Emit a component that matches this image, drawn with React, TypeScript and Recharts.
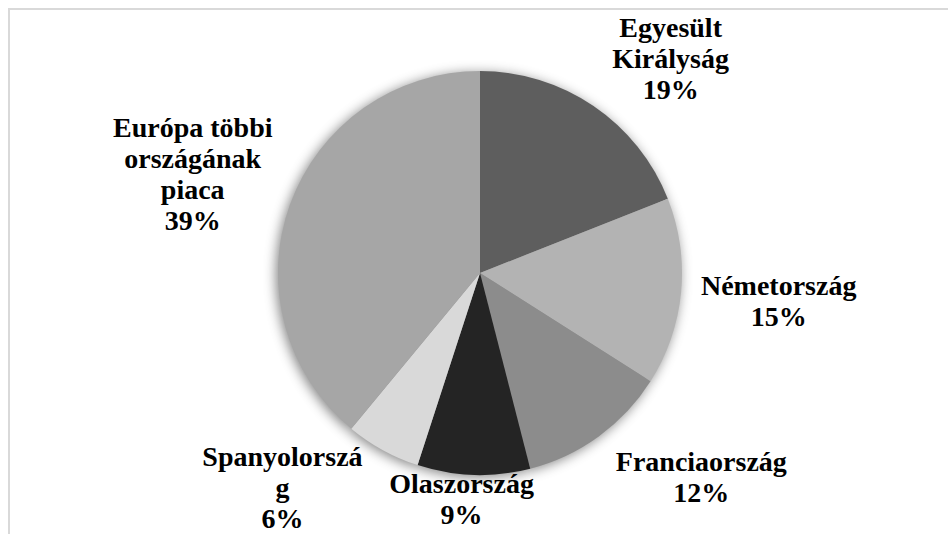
import React from 'react';
import { PieChart, Pie, Cell } from 'recharts';

const categories = ['Egyesült Királyság', 'Németország', 'Franciaország', 'Olaszország', 'Spanyolország', 'Európa többi országának piaca'];
const shares = [19, 15, 12, 9, 6, 39];
// label text broken the way the original wraps it
const labelLines = [
  ['Egyesült', 'Királyság'],
  ['Németország'],
  ['Franciaország'],
  ['Olaszország'],
  ['Spanyolorszá', 'g'],
  ['Európa többi', 'országának', 'piaca'],
];

const colors = ['#5e5e5e', '#b3b3b3', '#8c8c8c', '#242424', '#d9d9d9', '#a6a6a6'];
// small label shifts away from the plain mid-angle position
const nudges = [[22, 34], [0, 0], [45, -38], [-9, -73], [-53, -48], [-5, 3]];

const data = categories.map((name, i) => ({ name, value: shares[i] }));

const RAD = Math.PI / 180;
const LINE_H = 31;
const SERIF = '"Liberation Serif", "Times New Roman", serif';

const renderLabel = (props: any) => {
  const { cx, cy, midAngle, outerRadius, index, percent } = props;
  const r = outerRadius + 98;
  const x = cx + r * Math.cos(-midAngle * RAD) + nudges[index][0];
  const y = cy + r * Math.sin(-midAngle * RAD) + nudges[index][1];
  const lines = [...labelLines[index], `${Math.round(percent * 100)}%`];
  const first = y - ((lines.length - 1) * LINE_H) / 2 + 9;
  return (
    <text
      key={index}
      x={x}
      y={first}
      textAnchor="middle"
      fill="#000"
      style={{ fontFamily: SERIF, fontWeight: 'bold', fontSize: 28 }}
    >
      {lines.map((t, i) => (
        <tspan key={i} x={x} y={first + i * LINE_H}>
          {t}
        </tspan>
      ))}
    </text>
  );
};

export default function App() {
  return (
    <div
      style={{
        marginLeft: 8,
        marginTop: 8,
        width: 940,
        height: 524,
        borderTop: '2px solid #d9d9d9',
        borderLeft: '2px solid #d9d9d9',
        background: '#fff',
        overflow: 'hidden',
      }}
    >
      <style>{`body { margin: 0; overflow: hidden; } .pie-shadow { filter: url(#pieShadow); }`}</style>
      <svg width={0} height={0} style={{ position: 'absolute' }}>
        <defs>
          <filter id="pieShadow" x="-20%" y="-20%" width="140%" height="140%">
            <feGaussianBlur in="SourceAlpha" stdDeviation="4" />
            <feOffset dx="-1" dy="1" result="blur" />
            <feComponentTransfer>
              <feFuncA type="linear" slope="0.7" />
            </feComponentTransfer>
          </filter>
        </defs>
      </svg>
      <PieChart width={940} height={524} margin={{ top: 0, right: 0, bottom: 0, left: 0 }}>
        <Pie
          className="pie-shadow"
          data={data}
          dataKey="value"
          cx={470}
          cy={263}
          outerRadius={202}
          startAngle={90}
          endAngle={-270}
          stroke="none"
          fill="#000"
          label={false}
          labelLine={false}
          isAnimationActive={false}
        />
        <Pie
          data={data}
          dataKey="value"
          cx={470}
          cy={263}
          outerRadius={202}
          startAngle={90}
          endAngle={-270}
          stroke="none"
          label={renderLabel}
          labelLine={false}
          isAnimationActive={false}
        >
          {data.map((d, i) => (
            <Cell key={d.name} fill={colors[i]} />
          ))}
        </Pie>
      </PieChart>
    </div>
  );
}
